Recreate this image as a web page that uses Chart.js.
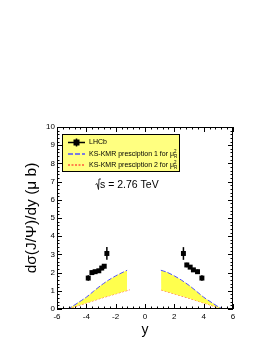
<!DOCTYPE html>
<html>
<head>
<meta charset="utf-8">
<script src="https://cdn.jsdelivr.net/npm/chart.js@4.4.1/dist/chart.umd.min.js"></script>
<style>
  html, body { margin: 0; padding: 0; background: #fff; }
</style>
</head>
<body>
<canvas id="chart" width="273" height="353"></canvas>
<script>
// LHCb points (both hemispheres), value and error
const lhcbX   = [-3.87, -3.62, -3.4, -3.15, -2.95, -2.78, -2.6, 2.62, 2.85, 3.08, 3.3, 3.58, 3.88];
const lhcbY   = [1.7, 2.0, 2.05, 2.1, 2.25, 2.35, 3.05, 3.05, 2.42, 2.3, 2.15, 2.05, 1.7];
const lhcbErr = [0.15, 0.12, 0.1, 0.1, 0.12, 0.12, 0.35, 0.35, 0.12, 0.1, 0.1, 0.12, 0.15];

// KS-KMR prescription 1 (upper edge of band)
const presc1LeftX  = [-5.3, -5.0, -4.5, -4.0, -3.5, -3.0, -2.5, -2.0, -1.5, -1.22];
const presc1LeftY  = [0, 0.12, 0.38, 0.65, 0.98, 1.3, 1.58, 1.82, 2.02, 2.13];
const presc1RightX = [1.08, 1.5, 2.0, 2.5, 3.0, 3.5, 4.0, 4.5, 5.0, 5.3];
const presc1RightY = [2.13, 2.02, 1.82, 1.58, 1.3, 0.98, 0.65, 0.38, 0.12, 0];

// KS-KMR prescription 2 (lower edge of band)
const presc2LeftX  = [-5.2, -5.0, -4.5, -4.0, -3.5, -3.0, -2.5, -2.0, -1.5, -1.05];
const presc2LeftY  = [0, 0.06, 0.2, 0.33, 0.46, 0.59, 0.71, 0.83, 0.95, 1.05];
const presc2RightX = [1.1, 1.5, 2.0, 2.5, 3.0, 3.5, 4.0, 4.5, 5.0, 5.2];
const presc2RightY = [1.05, 0.95, 0.83, 0.71, 0.59, 0.46, 0.33, 0.2, 0.06, 0];

const xTicks = [-6, -4, -2, 0, 2, 4, 6];
const yTicks = [0, 1, 2, 3, 4, 5, 6, 7, 8, 9, 10];

const legendLabels = ['LHCb', 'KS-KMR presciption 1 for \u03bc', 'KS-KMR presciption 2 for \u03bc'];
const energyLabel = 's = 2.76 TeV';

const bandColor = '#ffff4d';
const blue = '#5050ff';
const red = '#ff5a3c';

function pts(xs, ys) {
  return xs.map((x, i) => ({x: x, y: ys[i]}));
}

function lineSet(xs, ys, color, dash, fill) {
  return {
    type: 'line',
    data: pts(xs, ys),
    borderColor: color,
    borderWidth: 1,
    borderDash: dash,
    pointRadius: 0,
    tension: 0.3,
    fill: fill,
    backgroundColor: bandColor,
  };
}

// ROOT style frame, inside ticks, error bars, legend box and label
const rootDecor = {
  id: 'rootDecor',
  afterDatasetsDraw(chart) {
    const c = chart.ctx;
    const a = chart.chartArea;
    const xs = chart.scales.x, ys = chart.scales.y;
    c.save();

    // error bars
    c.strokeStyle = '#000';
    c.lineWidth = 1.5;
    lhcbX.forEach((x, i) => {
      const px = xs.getPixelForValue(x);
      c.beginPath();
      c.moveTo(px, ys.getPixelForValue(lhcbY[i] - lhcbErr[i]));
      c.lineTo(px, ys.getPixelForValue(lhcbY[i] + lhcbErr[i]));
      c.stroke();
    });

    // frame
    c.lineWidth = 1;
    c.strokeRect(a.left + 0.5, a.top + 0.5, a.right - a.left - 1, a.bottom - a.top - 1);

    // ticks
    c.beginPath();
    for (let v = -6; v <= 6.001; v += 0.4) {
      const px = Math.round(xs.getPixelForValue(v)) + 0.5;
      const major = Math.abs(v / 2 - Math.round(v / 2)) < 0.01;
      const len = major ? 5 : 2.5;
      c.moveTo(px, a.bottom); c.lineTo(px, a.bottom - len);
      c.moveTo(px, a.top); c.lineTo(px, a.top + len);
    }
    for (let v = 0; v <= 10.001; v += 0.2) {
      const py = Math.round(ys.getPixelForValue(v)) + 0.5;
      const major = Math.abs(v - Math.round(v)) < 0.01;
      const len = major ? 5 : 2.5;
      c.moveTo(a.left, py); c.lineTo(a.left + len, py);
      c.moveTo(a.right, py); c.lineTo(a.right - len, py);
    }
    c.stroke();

    // legend
    const lx = 62, ly = 134, lw = 117, lh = 37;
    c.fillStyle = '#ffff80';
    c.fillRect(lx, ly, lw, lh);
    c.strokeStyle = '#000';
    c.lineWidth = 1;
    c.strokeRect(lx + 0.5, ly + 0.5, lw, lh);

    const rows = [ly + 8.5, ly + 20, ly + 31];
    // LHCb
    c.lineWidth = 1.5;
    c.beginPath(); c.moveTo(68, rows[0]); c.lineTo(85, rows[0]);
    c.moveTo(76.5, rows[0] - 4); c.lineTo(76.5, rows[0] + 4); c.stroke();
    c.fillStyle = '#000';
    c.fillRect(73.5, rows[0] - 3, 6, 6);
    // prescriptions
    c.lineWidth = 1.3;
    c.setLineDash([5, 2]);
    c.strokeStyle = blue;
    c.beginPath(); c.moveTo(68, rows[1]); c.lineTo(85, rows[1]); c.stroke();
    c.setLineDash([2, 1.5]);
    c.strokeStyle = red;
    c.beginPath(); c.moveTo(68, rows[2]); c.lineTo(85, rows[2]); c.stroke();
    c.setLineDash([]);

    c.fillStyle = '#000';
    c.textBaseline = 'middle';
    c.textAlign = 'left';
    legendLabels.forEach((t, i) => {
      c.font = '7px "Liberation Sans", Arial, sans-serif';
      c.fillText(t, 89, rows[i]);
      if (i > 0) {
        const w = c.measureText(t).width;
        c.font = '4.5px "Liberation Sans", Arial, sans-serif';
        c.fillText('2', 89 + w, rows[i] - 2.5);
        c.fillText('R', 89 + w, rows[i] + 2.5);
      }
    });

    // sqrt(s) label
    c.font = '10.5px "Liberation Sans", Arial, sans-serif';
    c.fillText(energyLabel, 100, 185);
    c.strokeStyle = '#000';
    c.lineWidth = 0.8;
    c.beginPath();
    c.moveTo(95.5, 184.5); c.lineTo(97, 183.5); c.lineTo(98.5, 189.5); c.lineTo(99, 179); c.lineTo(101, 179);
    c.stroke();

    c.restore();
  }
};

const ctx = document.getElementById('chart').getContext('2d');

const config = {
  type: 'scatter',
  data: {
    datasets: [
      {
        data: pts(lhcbX, lhcbY),
        pointStyle: 'rect',
        pointRadius: 3.5,
        backgroundColor: '#000',
        borderColor: '#000',
        borderWidth: 0,
        showLine: false,
      },
      lineSet(presc1LeftX, presc1LeftY, blue, [5, 2], '+1'),
      lineSet(presc2LeftX, presc2LeftY, red, [2, 1.5], false),
      lineSet(presc1RightX, presc1RightY, blue, [5, 2], '+1'),
      lineSet(presc2RightX, presc2RightY, red, [2, 1.5], false),
    ]
  },
  options: {
    responsive: false,
    animation: false,
    layout: {padding: {top: 127, right: 40, left: 0, bottom: 0}},
    plugins: {
      legend: {display: false},
      tooltip: {enabled: false},
    },
    scales: {
      x: {
        type: 'linear',
        min: -6,
        max: 6,
        afterBuildTicks: (s) => { s.ticks = xTicks.map(v => ({value: v})); },
        afterFit: (s) => { s.height = 44; },
        ticks: {color: '#000', font: {size: 8, family: 'Liberation Sans'}, padding: 3, maxRotation: 0},
        grid: {display: false, drawTicks: false},
        border: {display: false},
        title: {display: true, text: 'y', color: '#000', font: {size: 14, family: 'Liberation Sans'}, padding: {top: 0, bottom: 14}},
      },
      y: {
        min: 0,
        max: 10,
        afterBuildTicks: (s) => { s.ticks = yTicks.map(v => ({value: v})); },
        afterFit: (s) => { s.width = 57; },
        ticks: {color: '#000', font: {size: 8, family: 'Liberation Sans'}, padding: 2},
        grid: {display: false, drawTicks: false},
        border: {display: false},
        title: {display: true, text: 'd\u03c3(J/\u03a8)/dy (\u03bc b)', color: '#000', font: {size: 15.5, family: 'Liberation Sans'}, padding: {top: 22, bottom: 0}},
      }
    }
  },
  plugins: [rootDecor]
};

const chart = new Chart(ctx, config);
</script>
</body>
</html>
